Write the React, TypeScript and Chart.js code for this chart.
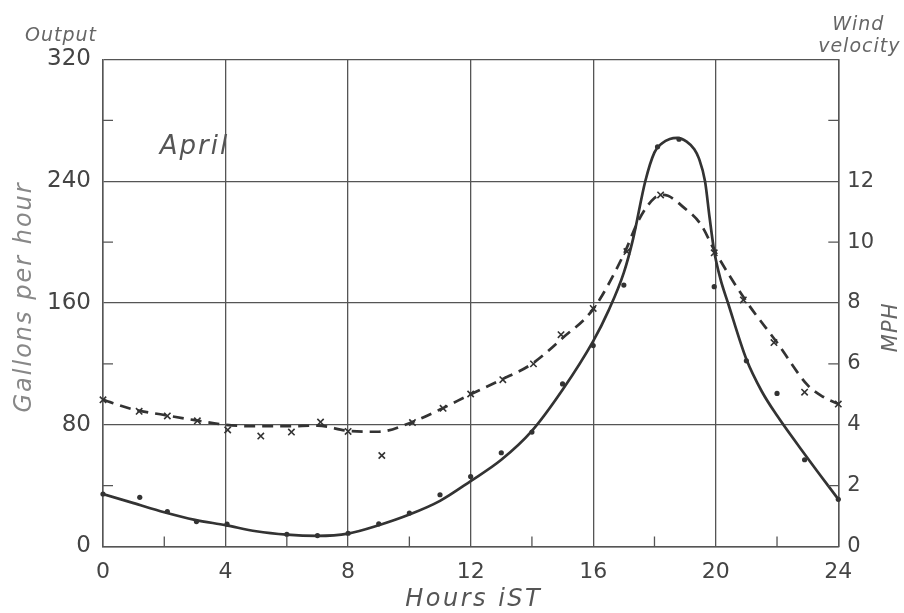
import React, { useEffect, useRef } from "react";
import { Chart, registerables } from "chart.js";

Chart.register(...registerables);

// ---- Data ----
const hourTickStep = 4;
const outputTickStep = 80;
const windTickStep = 2;
const minorHourTicks = [2, 6, 10, 14, 18, 22];
const minorOutputTicks = [40, 120, 200, 280];
const minorWindTicks = [2, 6, 10, 14];
const windLabelMax = 12;

// Smoothed output curve (gallons per hour)
const outputCurveHours = [0, 1, 2, 3, 4, 5, 6, 7, 8, 9, 10, 11, 12, 13, 14, 15, 16, 16.5, 17, 17.3, 17.7, 18, 18.25, 18.5, 18.75, 19.05, 19.3, 19.45, 19.65, 19.8, 19.95, 20.15, 20.4, 21, 21.5, 22, 23, 24];
const outputCurveGallons = [34.5, 28.5, 22.5, 17.5, 14, 10, 7.8, 7, 8.5, 14, 21, 30, 43, 57, 76, 103, 135, 155, 180, 202, 240, 259, 265, 267.8, 268.5, 266, 261, 255, 240, 216, 194, 176, 160, 123, 102, 86, 58, 31];

// Observed output (dots)
const outputObsHours = [0, 1.2, 2.1, 3.05, 4.05, 6, 7, 8, 9, 10, 11, 12, 13, 14, 15, 16, 17, 18.1, 18.8, 19.95, 21, 22, 22.9, 24];
const outputObsGallons = [34.5, 32.3, 23, 16.4, 14.7, 8, 7.2, 8.7, 14.9, 22, 34, 46, 61.6, 75.2, 106.8, 132, 171.8, 262.6, 267.6, 170.7, 122, 100.6, 57, 31];

// Smoothed wind curve (MPH)
const windCurveHours = [0, 1, 2, 3, 4, 5, 6, 7, 8, 9, 10, 11, 12, 13, 14, 15, 16, 17, 17.5, 18, 18.3, 19, 19.5, 20, 21, 22, 23, 23.5, 24];
const windCurveMph = [4.82, 4.5, 4.32, 4.15, 4.0, 3.95, 3.95, 3.97, 3.8, 3.77, 4.05, 4.5, 5.0, 5.48, 6.0, 6.85, 7.8, 9.6, 10.75, 11.45, 11.55, 11.1, 10.6, 9.65, 8.05, 6.7, 5.3, 4.92, 4.68];

// Observed wind (x markers)
const windObsHours = [0, 1.18, 2.1, 3.08, 4.07, 5.15, 6.15, 7.1, 8, 9.1, 10.1, 11.1, 12, 13.05, 14.05, 14.95, 16, 17.1, 18.2, 19.95, 20.9, 21.9, 22.9, 24];
const windObsMph = [4.82, 4.44, 4.29, 4.13, 3.83, 3.63, 3.76, 4.09, 3.78, 2.99, 4.07, 4.54, 5.01, 5.48, 6.0, 6.96, 7.82, 9.69, 11.55, 9.65, 8.1, 6.7, 5.07, 4.68];

const INK = "#333";
const GRID = "#555";
const TEXT = "#444";
const FONT = '"DejaVu Sans", sans-serif';

const zip = (xs: number[], ys: number[]) => xs.map((x, i) => ({ x, y: ys[i] }));

const decorPlugin = {
  id: "decor",
  afterDraw(chart: any) {
    const { ctx, chartArea, scales } = chart;
    const { left, right, top, bottom } = chartArea;
    ctx.save();
    ctx.strokeStyle = GRID;
    ctx.lineWidth = 1.3;
    ctx.beginPath();
    minorHourTicks.forEach((h) => {
      const px = scales.x.getPixelForValue(h);
      ctx.moveTo(px, bottom);
      ctx.lineTo(px, bottom - 10);
    });
    minorOutputTicks.forEach((v) => {
      const py = scales.y.getPixelForValue(v);
      ctx.moveTo(left, py);
      ctx.lineTo(left + 10, py);
    });
    minorWindTicks.forEach((v) => {
      const py = scales.y1.getPixelForValue(v);
      ctx.moveTo(right - 10, py);
      ctx.lineTo(right, py);
    });
    ctx.stroke();

    const setSpacing = (px: number) => {
      try {
        (ctx as any).letterSpacing = `${px}px`;
      } catch (e) {}
    };

    // "April" annotation
    ctx.fillStyle = "#555";
    ctx.textBaseline = "alphabetic";
    ctx.textAlign = "left";
    ctx.font = `italic 26px ${FONT}`;
    setSpacing(2);
    ctx.fillText("April", scales.x.getPixelForValue(1.85), scales.y.getPixelForValue(258));

    // Corner labels
    ctx.fillStyle = "#666";
    ctx.font = `italic 19px ${FONT}`;
    ctx.textAlign = "center";
    setSpacing(1);
    ctx.fillText("Output", left - 42, top - 19);
    ctx.fillText("Wind", right + 20, top - 30);
    ctx.fillText("velocity", right + 21, top - 8);

    // Right axis title
    ctx.save();
    ctx.translate(right + 53, scales.y1.getPixelForValue(7.2));
    ctx.rotate(-Math.PI / 2);
    ctx.font = `italic 21px ${FONT}`;
    ctx.textBaseline = "middle";
    setSpacing(1);
    ctx.fillText("MPH", 0, 0);
    ctx.restore();

    // Left axis title
    ctx.save();
    ctx.translate(25, scales.y.getPixelForValue(164));
    ctx.rotate(-Math.PI / 2);
    ctx.fillStyle = "#888";
    ctx.font = `italic 24px ${FONT}`;
    ctx.textBaseline = "middle";
    setSpacing(2);
    ctx.fillText("Gallons per hour", 0, 0);
    ctx.restore();

    // Bottom axis title
    ctx.fillStyle = "#555";
    ctx.font = `italic 24px ${FONT}`;
    ctx.textBaseline = "middle";
    ctx.textAlign = "center";
    setSpacing(2.5);
    ctx.fillText("Hours iST", scales.x.getPixelForValue(12.1), 600);
    setSpacing(0);
    ctx.restore();
  },
};

export default function App() {
  const ref = useRef<HTMLCanvasElement | null>(null);

  useEffect(() => {
    if (!ref.current) return;
    const chart = new Chart(ref.current, {
      type: "scatter",
      data: {
        datasets: [
          {
            label: "Output curve",
            data: zip(outputCurveHours, outputCurveGallons),
            showLine: true,
            borderColor: INK,
            borderWidth: 2.7,
            pointRadius: 0,
            cubicInterpolationMode: "monotone",
            xAxisID: "x",
            yAxisID: "y",
          },
          {
            label: "Output observed",
            data: zip(outputObsHours, outputObsGallons),
            showLine: false,
            pointStyle: "circle",
            pointRadius: 2.6,
            backgroundColor: INK,
            borderColor: INK,
            borderWidth: 0,
            clip: false,
            xAxisID: "x",
            yAxisID: "y",
          },
          {
            label: "Wind curve",
            data: zip(windCurveHours, windCurveMph),
            showLine: true,
            borderColor: INK,
            borderWidth: 2.7,
            borderDash: [11, 7],
            pointRadius: 0,
            cubicInterpolationMode: "monotone",
            xAxisID: "x",
            yAxisID: "y1",
          },
          {
            label: "Wind observed",
            data: zip(windObsHours, windObsMph),
            showLine: false,
            pointStyle: "crossRot",
            pointRadius: 4.5,
            borderColor: INK,
            borderWidth: 1.6,
            clip: false,
            xAxisID: "x",
            yAxisID: "y1",
          },
        ],
      },
      options: {
        animation: false,
        responsive: true,
        maintainAspectRatio: false,
        layout: { padding: { top: 59.5, left: 0, right: 0, bottom: 0 } },
        plugins: { legend: { display: false }, tooltip: { enabled: false } },
        scales: {
          x: {
            type: "linear",
            position: "bottom",
            min: 0,
            max: 24,
            ticks: { stepSize: hourTickStep, color: TEXT, font: { family: FONT, size: 22 }, padding: 13 },
            grid: { color: GRID, lineWidth: 1.3, drawTicks: false },
            border: { color: GRID, width: 1.5 },
            afterFit: (s: any) => {
              s.height = 66.5;
            },
          },
          y: {
            type: "linear",
            position: "left",
            min: 0,
            max: 320,
            ticks: { stepSize: outputTickStep, color: TEXT, font: { family: FONT, size: 23 }, padding: 12 },
            grid: { color: GRID, lineWidth: 1.3, drawTicks: false },
            border: { color: GRID, width: 1.5 },
            afterFit: (s: any) => {
              s.width = 103;
            },
          },
          y1: {
            type: "linear",
            position: "right",
            min: 0,
            max: 16,
            ticks: {
              stepSize: windTickStep,
              color: TEXT,
              font: { family: FONT, size: 21 },
              padding: 9,
              callback: (v: any) => (Number(v) <= windLabelMax ? String(v) : ""),
            },
            grid: { drawOnChartArea: false, drawTicks: false },
            border: { color: GRID, width: 1.5 },
            afterFit: (s: any) => {
              s.width = 65.7;
            },
          },
        },
      },
      plugins: [decorPlugin],
    } as any);
    return () => chart.destroy();
  }, []);

  return (
    <div style={{ position: "fixed", left: 0, top: 0, width: 904, height: 613, background: "#fff" }}>
      <canvas ref={ref} />
    </div>
  );
}
